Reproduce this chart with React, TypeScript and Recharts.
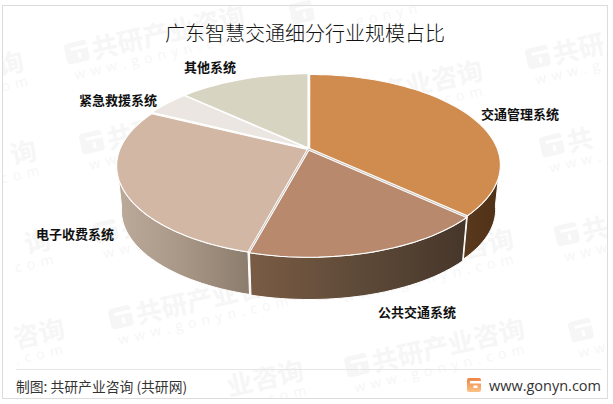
import React from 'react';
import { PieChart, Pie } from 'recharts';

// Values
const categories = ['交通管理系统', '公共交通系统', '电子收费系统', '紧急救援系统', '其他系统'];
const shares = [36.8, 17.4, 28.1, 4.5, 13.2];

const topColors = ['#d08c4f', '#b8896c', '#d2b7a4', '#ebe6e1', '#d8d4c2'];
const wallFrom = ['#5a3a1e', '#7a5c44', '#bcab9b', '#b5aca4', '#aaa698'];
const wallMid = ['#55351a', '#5e4a38', '#a89786', '#b5aca4', '#aaa698'];
const wallTo = ['#4e3118', '#46362a', '#8c7c6d', '#b5aca4', '#aaa698'];

const labelSpots = [
  { x: 520, y: 113 },
  { x: 417, y: 311 },
  { x: 75, y: 233 },
  { x: 118, y: 99 },
  { x: 210, y: 66 },
];

// x, y, first brand character, last brand character (exclusive), first url character, last url character, logo
const watermarks: [number, number, number, number, number, number, boolean][] = [
  [68, 65, 0, 6, 0, 13, true],
  [83, 155, 0, 6, 0, 13, true],
  [306, 120, 0, 6, 0, 13, true],
  [97, 244, 0, 6, 0, 13, true],
  [337, 288, 0, 6, 0, 13, true],
  [112, 330, 0, 6, 0, 13, true],
  [348, 378, 0, 6, 0, 13, true],
  [293, 25, 6, 6, 0, 9, true],
  [127, 420, 3, 6, 10, 13, false],
  [529, 70, 0, 2, 0, 5, true],
  [543, 158, 0, 1, 0, 4, true],
  [558, 247, 0, 1, 0, 3, true],
  [572, 343, 0, 0, 0, 2, true],
  [-153, 111, 5, 6, 11, 13, false],
  [-140, 200, 5, 6, 10, 13, false],
  [-126, 289, 5, 6, 10, 13, false],
  [-112, 378, 4, 6, 9, 13, false],
];
const BRAND = '共研产业咨询';
const URL_TEXT = 'www.gonyn.com';

const tableData = categories.map((name, i) => ({ name, value: shares[i], fill: topColors[i] }));

// tilt and perspective of the disc
const SQUASH = 87.5 / 187.5;
const PERSP = 0.182;
const LOWER_SCALE = 0.975;
const LOWER_DROP = 45;
const EXPLODE = 1.3;

const project = (clock: number, a: number, cx: number, cy: number) => {
  const rad = (clock * Math.PI) / 180;
  const X = Math.sin(rad);
  const Y = -Math.cos(rad);
  const d = 1 - PERSP * Y;
  return { x: cx + (a * X) / d, y: cy + (a * SQUASH * Y) / d };
};

const rimPoints = (from: number, to: number, a: number, cx: number, cy: number) => {
  const pts = [];
  const n = Math.max(2, Math.ceil(Math.abs(to - from) / 2));
  for (let i = 0; i <= n; i++) {
    pts.push(project(from + ((to - from) * i) / n, a, cx, cy));
  }
  return pts;
};

const toPath = (pts: { x: number; y: number }[]) =>
  pts.map((p, i) => `${i === 0 ? 'M' : 'L'}${p.x.toFixed(1)} ${p.y.toFixed(1)}`).join(' ');

const Slice3D = (props: any) => {
  const { cx, cy, outerRadius, startAngle, endAngle, fill, index } = props;
  const from = 90 - startAngle;
  const to = 90 - endAngle;
  const mid = (((from + to) / 2) * Math.PI) / 180;
  const ox = cx + EXPLODE * Math.sin(mid);
  const oy = cy - EXPLODE * Math.cos(mid);

  const top = `${toPath([{ x: ox, y: oy }, ...rimPoints(from, to, outerRadius, ox, oy)])} Z`;

  // only the near side of the disc shows a wall
  const wallStart = Math.max(from, 98);
  const wallEnd = Math.min(to, 262);
  let wall = null;
  if (wallEnd > wallStart) {
    const upper = rimPoints(wallStart, wallEnd, outerRadius, ox, oy);
    const lower = rimPoints(wallEnd, wallStart, outerRadius * LOWER_SCALE, ox, oy + LOWER_DROP);
    const id = `wall-${index}`;
    wall = (
      <>
        <defs>
          <linearGradient id={id} x1="0" y1="0" x2="1" y2="0">
            <stop offset="0%" stopColor={wallFrom[index]} />
            <stop offset="50%" stopColor={wallMid[index]} />
            <stop offset="100%" stopColor={wallTo[index]} />
          </linearGradient>
        </defs>
        <path d={`${toPath([...upper, ...lower])} Z`} fill={`url(#${id})`} stroke="#fff" strokeWidth={1} strokeLinejoin="round" />
      </>
    );
  }

  const seamEnd = project(from, outerRadius, cx, cy);

  return (
    <g>
      {wall}
      <path d={top} fill={fill} stroke="#fff" strokeWidth={1.1} strokeLinejoin="round" />
      {(index === 1 || index === 2) && (
        <line x1={cx} y1={cy} x2={seamEnd.x} y2={seamEnd.y} stroke="#a8998e" strokeWidth={0.6} />
      )}
    </g>
  );
};

const SliceLabel = (props: any) => {
  const spot = labelSpots[props.index];
  return (
    <text
      x={spot.x}
      y={spot.y}
      textAnchor="middle"
      dominantBaseline="central"
      fontSize={13}
      fontWeight={700}
      fill="#111"
      fontFamily="'Noto Sans CJK SC', sans-serif"
    >
      {categories[props.index]}
    </text>
  );
};

const FONT = "'Noto Sans CJK SC', sans-serif";

const App = () => (
  <div style={{ position: 'absolute', left: 0, top: 0, width: 613, height: 404, background: '#fff', overflow: 'hidden' }}>
    <svg width={613} height={404} style={{ position: 'absolute', left: 0, top: 0 }}>
      {watermarks.map(([x, y, b0, b1, u0, u1, logo], i) => (
        <g key={i} transform={`translate(${x} ${y}) rotate(-13)`}>
          {logo && (
            <g>
              <rect x={0} y={-21} width={23} height={21} rx={4} fill="#f6f6f6" />
              <rect x={6} y={-16} width={17} height={3} fill="#fff" />
              <rect x={12} y={-10} width={3} height={6} fill="#fff" />
            </g>
          )}
          {b1 > b0 && (
            <text x={27 + 26 * b0} y={0} fontSize={26} fontWeight={700} fill="#f6f6f6" fontFamily={FONT}>
              {BRAND.slice(b0, b1)}
            </text>
          )}
          {u1 > u0 && (
            <text x={4 + 13.8 * u0} y={16} fontSize={14} letterSpacing={5.5} fill="#f6f6f6" fontFamily="'Open Sans', sans-serif">
              {URL_TEXT.slice(u0, u1)}
            </text>
          )}
        </g>
      ))}
    </svg>
    <div style={{ position: 'absolute', left: 0, top: 0 }}>
      <PieChart width={613} height={404} margin={{ top: 0, right: 0, bottom: 0, left: 0 }}>
        <Pie
          data={tableData}
          dataKey="value"
          nameKey="name"
          cx={308.5}
          cy={149}
          outerRadius={187.5}
          startAngle={90}
          endAngle={-270}
          isAnimationActive={false}
          shape={Slice3D}
          label={SliceLabel}
          labelLine={false}
        />
      </PieChart>
    </div>
    <svg width={613} height={404} style={{ position: 'absolute', left: 0, top: 0, pointerEvents: 'none' }}>
      <rect x={0} y={399} width={613} height={5} fill="#fff" />
      <rect x={608} y={0} width={5} height={404} fill="#fff" />
      <rect x={0} y={0} width={2} height={404} fill="#fff" />
      <rect x={2.5} y={5.5} width={605} height={393} fill="none" stroke="#dcdcdc" strokeWidth={1} />
      <text x={305} y={32} textAnchor="middle" dominantBaseline="central" fontSize={20} fontWeight={300} fill="#111" fontFamily={FONT}>
        广东智慧交通细分行业规模占比
      </text>
      <line x1={16} y1={369.5} x2={601} y2={369.5} stroke="#e6e6e6" />
      <text x={16} y={386} dominantBaseline="central" fontSize={13.8} fill="#333" fontFamily={FONT}>制图: 共研产业咨询 (共研网)</text>
      <defs>
        <linearGradient id="logoFill" x1="0" y1="0" x2="0" y2="1">
          <stop offset="0%" stopColor="#ee8448" />
          <stop offset="100%" stopColor="#fbc285" />
        </linearGradient>
      </defs>
      <rect x={467} y={378} width={14} height={14} rx={2} fill="url(#logoFill)" />
      <rect x={470} y={381} width={11} height={2.5} fill="#fff" />
      <rect x={473.5} y={385.5} width={4} height={2.5} fill="#fff" />
      <text x={601} y={385} textAnchor="end" dominantBaseline="central" fontSize={14.5} fill="#333" fontFamily="'Open Sans', sans-serif">www.gonyn.com</text>
    </svg>
  </div>
);

export default App;
